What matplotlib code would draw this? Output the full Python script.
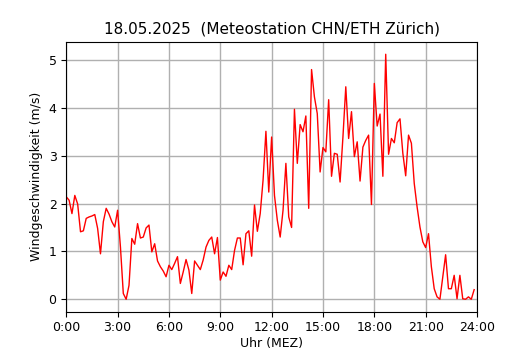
import matplotlib
matplotlib.use("Agg")
import matplotlib.pyplot as plt
import numpy as np

# 10-Minuten-Mittel der Windgeschwindigkeit (m/s), 0:00 bis 23:50
wind = [
    2.14, 2.07, 1.79, 2.17, 1.99, 1.41, 1.43, 1.69, 1.72, 1.74, 1.77, 1.48,
    0.95, 1.62, 1.90, 1.78, 1.62, 1.51, 1.86, 1.09, 0.12, 0.00, 0.29, 1.27,
    1.15, 1.58, 1.28, 1.30, 1.49, 1.55, 0.99, 1.16, 0.80, 0.68, 0.59, 0.47,
    0.71, 0.62, 0.75, 0.89, 0.33, 0.57, 0.83, 0.61, 0.12, 0.80, 0.71, 0.62,
    0.82, 1.09, 1.23, 1.30, 0.95, 1.29, 0.40, 0.57, 0.48, 0.71, 0.62, 1.02,
    1.28, 1.28, 0.72, 1.37, 1.43, 0.90, 1.97, 1.42, 1.79, 2.49, 3.51, 2.24,
    3.39, 2.17, 1.65, 1.30, 1.86, 2.84, 1.72, 1.50, 3.97, 2.84, 3.65, 3.50,
    3.83, 1.90, 4.80, 4.23, 3.88, 2.66, 3.17, 3.08, 4.17, 2.57, 3.05, 3.03,
    2.45, 3.39, 4.44, 3.36, 3.92, 2.98, 3.29, 2.47, 3.18, 3.32, 3.43, 1.98,
    4.51, 3.62, 3.87, 2.57, 5.12, 3.03, 3.36, 3.27, 3.69, 3.77, 3.05, 2.58,
    3.43, 3.26, 2.42, 1.93, 1.51, 1.20, 1.08, 1.37, 0.68, 0.22, 0.05, 0.00,
    0.47, 0.93, 0.22, 0.22, 0.50, 0.01, 0.50, 0.01, 0.00, 0.05, 0.00, 0.20,
]
stunden = np.arange(len(wind)) * 10 / 60
tick_pos = [0, 3, 6, 9, 12, 15, 18, 21, 24]
tick_labels = [f"{h}:00" for h in tick_pos]

fig = plt.figure(figsize=(5.3, 3.5), dpi=100)
plt.plot(stunden, wind, color="red", linewidth=1)
plt.xlim(0, 24)
plt.xticks(tick_pos, tick_labels)
plt.grid(True, linewidth=1)
plt.title("18.05.2025  (Meteostation CHN/ETH Zürich)", fontsize=11)
plt.xlabel("Uhr (MEZ)", fontsize=9, labelpad=2)
plt.ylabel("Windgeschwindigkeit (m/s)", fontsize=9)
plt.tick_params(labelsize=9)
plt.savefig("out.png", dpi=100)
plt.close()
